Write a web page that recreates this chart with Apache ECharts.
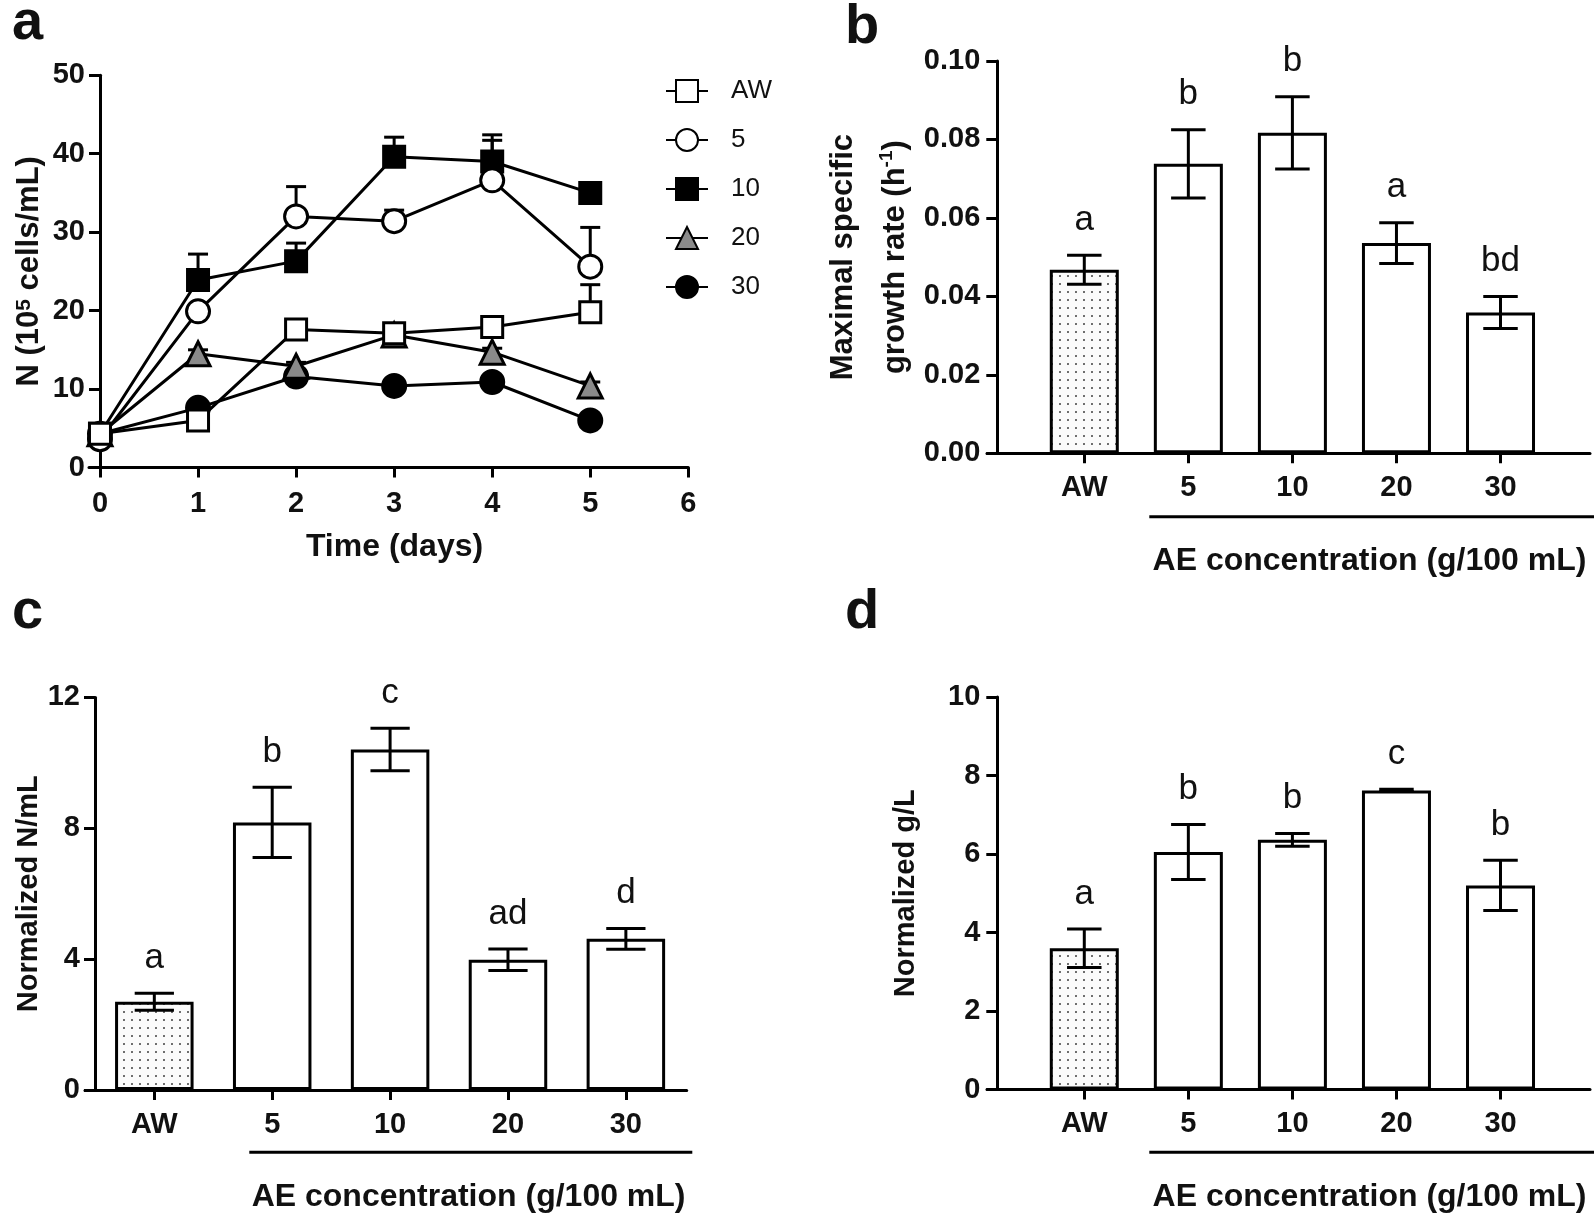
<!DOCTYPE html>
<html><head><meta charset="utf-8">
<script src="https://cdn.jsdelivr.net/npm/echarts@6/dist/echarts.min.js"></script>
<style>html,body{margin:0;padding:0;background:#fff}#c{width:1594px;height:1215px}</style>
</head><body><div id="c"></div>
<script>
// ---------- data ----------
const days = [0, 1, 2, 3, 4, 5];
const dayTicks = [0, 1, 2, 3, 4, 5, 6];
const lineNames = ['AW', '5', '10', '20', '30'];
const nAW  = [4.3, 6.0, 17.6, 17.1, 17.9, 19.8];
const eAW  = [0.3, 0.3, 1.2, 0.8, 1.0, 3.5];
const n5   = [3.6, 19.9, 32.0, 31.4, 36.6, 25.6];
const e5   = [0.3, 0.5, 3.8, 1.4, 5.1, 5.0];
const n10  = [4.3, 23.9, 26.3, 39.6, 39.0, 35.0];
const e10  = [0.3, 3.3, 2.3, 2.5, 3.4, 0.5];
const n20  = [4.3, 14.5, 12.9, 16.9, 14.7, 10.4];
const e20  = [0.2, 0.5, 0.5, 0.5, 0.5, 0.5];
const n30  = [4.3, 7.6, 11.6, 10.4, 10.9, 6.0];
const e30  = [0.2, 0.5, 0.5, 0.4, 0.5, 0.4];
const yTicksA = [0, 10, 20, 30, 40, 50];

const categories = ['AW', '5', '10', '20', '30'];
const rateMean = [0.0468, 0.0738, 0.0817, 0.0536, 0.0359];
const rateErr  = [0.0037, 0.0087, 0.0092, 0.0052, 0.0041];
const rateLetters = ['a', 'b', 'b', 'a', 'bd'];
const yTicksB = [0, 0.02, 0.04, 0.06, 0.08, 0.10];

const nmlMean = [2.70, 8.18, 10.41, 3.98, 4.62];
const nmlErr  = [0.26, 1.07, 0.65, 0.33, 0.32];
const nmlLetters = ['a', 'b', 'c', 'ad', 'd'];
const yTicksC = [0, 4, 8, 12];

const glMean = [3.60, 6.05, 6.36, 7.62, 5.20];
const glErr  = [0.49, 0.70, 0.16, 0.03, 0.64];
const glLetters = ['a', 'b', 'b', 'c', 'b'];
const yTicksD = [0, 2, 4, 6, 8, 10];

// ---------- styling helpers ----------
const FONT = "'Liberation Sans', Arial, Helvetica, sans-serif";
const INK = '#111';
const chart = echarts.init(document.getElementById('c'), null, {renderer: 'canvas'});

const pat = document.createElement('canvas');
pat.width = 8; pat.height = 8;
(function () {
  const g = pat.getContext('2d');
  g.fillStyle = '#fbfbfb'; g.fillRect(0, 0, 8, 8);
  g.fillStyle = '#333';
  g.beginPath(); g.arc(4, 4, 0.95, 0, Math.PI * 2); g.fill();
})();
const dotted = {image: pat, repeat: 'repeat'};

const axisLineStyle = {color: '#000', width: 3};
const tickLabel = {fontSize: 29, fontWeight: 'bold', color: INK, fontFamily: FONT};
const nameStyle = (fs, lh) => ({
  fontSize: fs, fontWeight: 'bold', color: INK, fontFamily: FONT,
  rich: {
    n: Object.assign({fontSize: fs, fontWeight: 'bold', color: INK, fontFamily: FONT}, lh ? {lineHeight: lh} : {}),
    s: lh
      ? {fontSize: Math.round(fs * 0.62), fontWeight: 'bold', color: INK, fontFamily: FONT, lineHeight: 30, verticalAlign: 'middle', padding: [0, 0, 18, 0]}
      : {fontSize: Math.round(fs * 0.68), fontWeight: 'bold', color: INK, fontFamily: FONT, verticalAlign: 'top', padding: [0, 0, 10, 0]}
  }
});

function valueYAxis(grid, max, step, off, margin, extra) {
  return Object.assign({
    gridIndex: grid, type: 'value', min: 0, max: max, interval: step, offset: off,
    axisLine: {show: true, onZero: false, lineStyle: axisLineStyle},
    axisTick: {show: true, length: 11, lineStyle: {color: '#000', width: 3}},
    axisLabel: Object.assign({margin: margin}, tickLabel),
    splitLine: {show: false},
    nameLocation: 'middle'
  }, extra);
}
function catXAxis(grid, min, max) {
  return {
    gridIndex: grid, type: 'value', min: min, max: max,
    axisLine: {show: true, onZero: true, lineStyle: axisLineStyle},
    axisTick: {show: true, length: 10, customValues: [1, 2, 3, 4, 5], lineStyle: {color: '#000', width: 3}},
    axisLabel: Object.assign({margin: 20, customValues: [1, 2, 3, 4, 5],
      formatter: (v) => categories[Math.round(v) - 1] || ''}, tickLabel),
    splitLine: {show: false}
  };
}

function errBar(capHalf, upOnly) {
  return function (params, api) {
    const x = api.value(0), y = api.value(1), e = api.value(2);
    const top = api.coord([x, y + e]);
    const bot = api.coord([x, upOnly ? y : y - e]);
    const st = {stroke: '#000', lineWidth: 3, fill: null};
    const ch = [
      {type: 'line', shape: {x1: top[0], y1: top[1], x2: bot[0], y2: bot[1]}, style: st},
      {type: 'line', shape: {x1: top[0] - capHalf, y1: top[1], x2: top[0] + capHalf, y2: top[1]}, style: st}
    ];
    if (!upOnly) ch.push({type: 'line', shape: {x1: bot[0] - capHalf, y1: bot[1], x2: bot[0] + capHalf, y2: bot[1]}, style: st});
    return {type: 'group', children: ch};
  };
}
function letterRender(letters) {
  return function (params, api) {
    const p = api.coord([api.value(0), api.value(1) + api.value(2)]);
    return {type: 'text', style: {text: letters[params.dataIndex], x: p[0], y: p[1] - 35,
      align: 'center', verticalAlign: 'middle', fontSize: 35, fontFamily: FONT, fill: INK}};
  };
}

// ---------- panel a series ----------
const lineDefs = [
  {name: 'AW', vals: nAW, errs: eAW, symbol: 'rect', size: 21, fill: '#fff', z: 7},
  {name: '5',  vals: n5,  errs: e5,  symbol: 'circle', size: 23, fill: '#fff', z: 6},
  {name: '10', vals: n10, errs: e10, symbol: 'rect', size: 21, fill: '#000', z: 5},
  {name: '20', vals: n20, errs: e20, symbol: 'triangle', size: 24, fill: '#8a8a8a', z: 4},
  {name: '30', vals: n30, errs: e30, symbol: 'circle', size: 23, fill: '#000', z: 3}
];
const series = [];
lineDefs.forEach(d => {
  series.push({
    type: 'custom', xAxisIndex: 0, yAxisIndex: 0, z: 1, silent: true,
    renderItem: errBar(10, true),
    data: days.map((t, i) => [t, d.vals[i], d.errs[i]])
  });
});
lineDefs.forEach(d => {
  series.push({
    type: 'line', name: d.name, xAxisIndex: 0, yAxisIndex: 0, z: d.z, clip: false,
    symbol: d.symbol, symbolSize: d.size, showAllSymbol: true,
    itemStyle: {color: d.fill, borderColor: '#000', borderWidth: 3},
    lineStyle: {color: '#000', width: 3},
    emphasis: {disabled: true},
    data: days.map((t, i) => [t, d.vals[i]])
  });
});

// ---------- bar panels ----------
function barPanel(idx, means, errs, letters, bw) {
  series.push({
    type: 'bar', xAxisIndex: idx, yAxisIndex: idx, barWidth: bw, z: 2,
    itemStyle: {color: '#fff', borderColor: '#000', borderWidth: 3},
    emphasis: {disabled: true},
    data: means.map((m, i) => i === 0
      ? {value: [i + 1, m], itemStyle: {color: dotted, borderColor: '#000', borderWidth: 3}}
      : {value: [i + 1, m]})
  });
  series.push({
    type: 'custom', xAxisIndex: idx, yAxisIndex: idx, z: 3, silent: true,
    renderItem: errBar(bw / 4, false),
    data: means.map((m, i) => [i + 1, m, errs[i]])
  });
  series.push({
    type: 'custom', xAxisIndex: idx, yAxisIndex: idx, z: 3, silent: true,
    renderItem: letterRender(letters),
    data: means.map((m, i) => [i + 1, m, errs[i]])
  });
}
barPanel(1, rateMean, rateErr, rateLetters, 69);
barPanel(2, nmlMean, nmlErr, nmlLetters, 78.5);
barPanel(3, glMean, glErr, glLetters, 69);

// ---------- graphics (panel letters, brackets, titles) ----------
function txt(x, y, s, font) {
  return {type: 'text', x: x, y: y, style: {text: s, font: font, fill: INK, align: 'center', verticalAlign: 'middle'}};
}
function hline(x1, x2, y) {
  return {type: 'line', shape: {x1: x1, y1: y, x2: x2, y2: y}, style: {stroke: '#000', lineWidth: 3}};
}
const titleFont = 'bold 32px ' + FONT;
const panelFont = 'bold 56px ' + FONT;

chart.setOption({
  animation: false,
  backgroundColor: '#fff',
  grid: [
    {left: 89, top: 75.2, width: 599.3, height: 392.3},
    {left: 987, top: 61, width: 603, height: 392.3},
    {left: 85, top: 697.4, width: 601.7, height: 392.6},
    {left: 987, top: 697, width: 603, height: 392.5}
  ],
  xAxis: [
    {
      gridIndex: 0, type: 'value', min: -0.112, max: 6,
      axisLine: {show: true, onZero: true, lineStyle: axisLineStyle},
      axisTick: {show: true, length: 10, customValues: dayTicks, lineStyle: {color: '#000', width: 3}},
      axisLabel: Object.assign({margin: 22, customValues: dayTicks}, tickLabel),
      splitLine: {show: false}
    },
    catXAxis(1, 0.065, 5.86),
    catXAxis(2, 0.412, 5.516),
    catXAxis(3, 0.065, 5.86)
  ],
  yAxis: [
    valueYAxis(0, yTicksA[yTicksA.length - 1], yTicksA[1], -11, 15, {
      name: '{n|N (10}{s|5}{n| cells/mL)}', nameGap: 55, nameTextStyle: nameStyle(31)
    }),
    valueYAxis(1, yTicksB[yTicksB.length - 1], yTicksB[1], -10.3, 17, {
      axisLabel: Object.assign({margin: 17, formatter: v => v.toFixed(2)}, tickLabel),
      name: '{n|Maximal specific}\n{n|growth rate (h}{s|-1}{n|)}', nameGap: 76, nameTextStyle: nameStyle(31, 52)
    }),
    valueYAxis(2, yTicksC[yTicksC.length - 1], yTicksC[1], -10, 15, {
      name: 'Normalized N/mL', nameGap: 45, nameTextStyle: nameStyle(29)
    }),
    valueYAxis(3, yTicksD[yTicksD.length - 1], yTicksD[1], -10.3, 17, {
      name: 'Normalized g/L', nameGap: 77, nameTextStyle: nameStyle(29)
    })
  ],
  legend: {
    data: lineNames, orient: 'vertical', left: 665, top: 78,
    itemWidth: 42, itemHeight: 27.5, itemGap: 23, selectedMode: false, padding: 0,
    textStyle: {fontSize: 26, color: INK, fontFamily: FONT, padding: [0, 0, 0, 18]}
  },
  series: series,
  graphic: [
    txt(27.5, 24, 'a', panelFont),
    txt(862, 28, 'b', panelFont),
    txt(27.5, 613, 'c', panelFont),
    txt(862, 613, 'd', panelFont),
    txt(394.5, 547, 'Time (days)', titleFont),
    hline(1149.3, 1594, 516.7),
    txt(1369.5, 561, 'AE concentration (g/100 mL)', titleFont),
    hline(249.3, 692.3, 1152.3),
    txt(468.6, 1197.6, 'AE concentration (g/100 mL)', titleFont),
    hline(1149.3, 1594, 1152.3),
    txt(1369.5, 1197.6, 'AE concentration (g/100 mL)', titleFont)
  ]
});
</script>
</body></html>
